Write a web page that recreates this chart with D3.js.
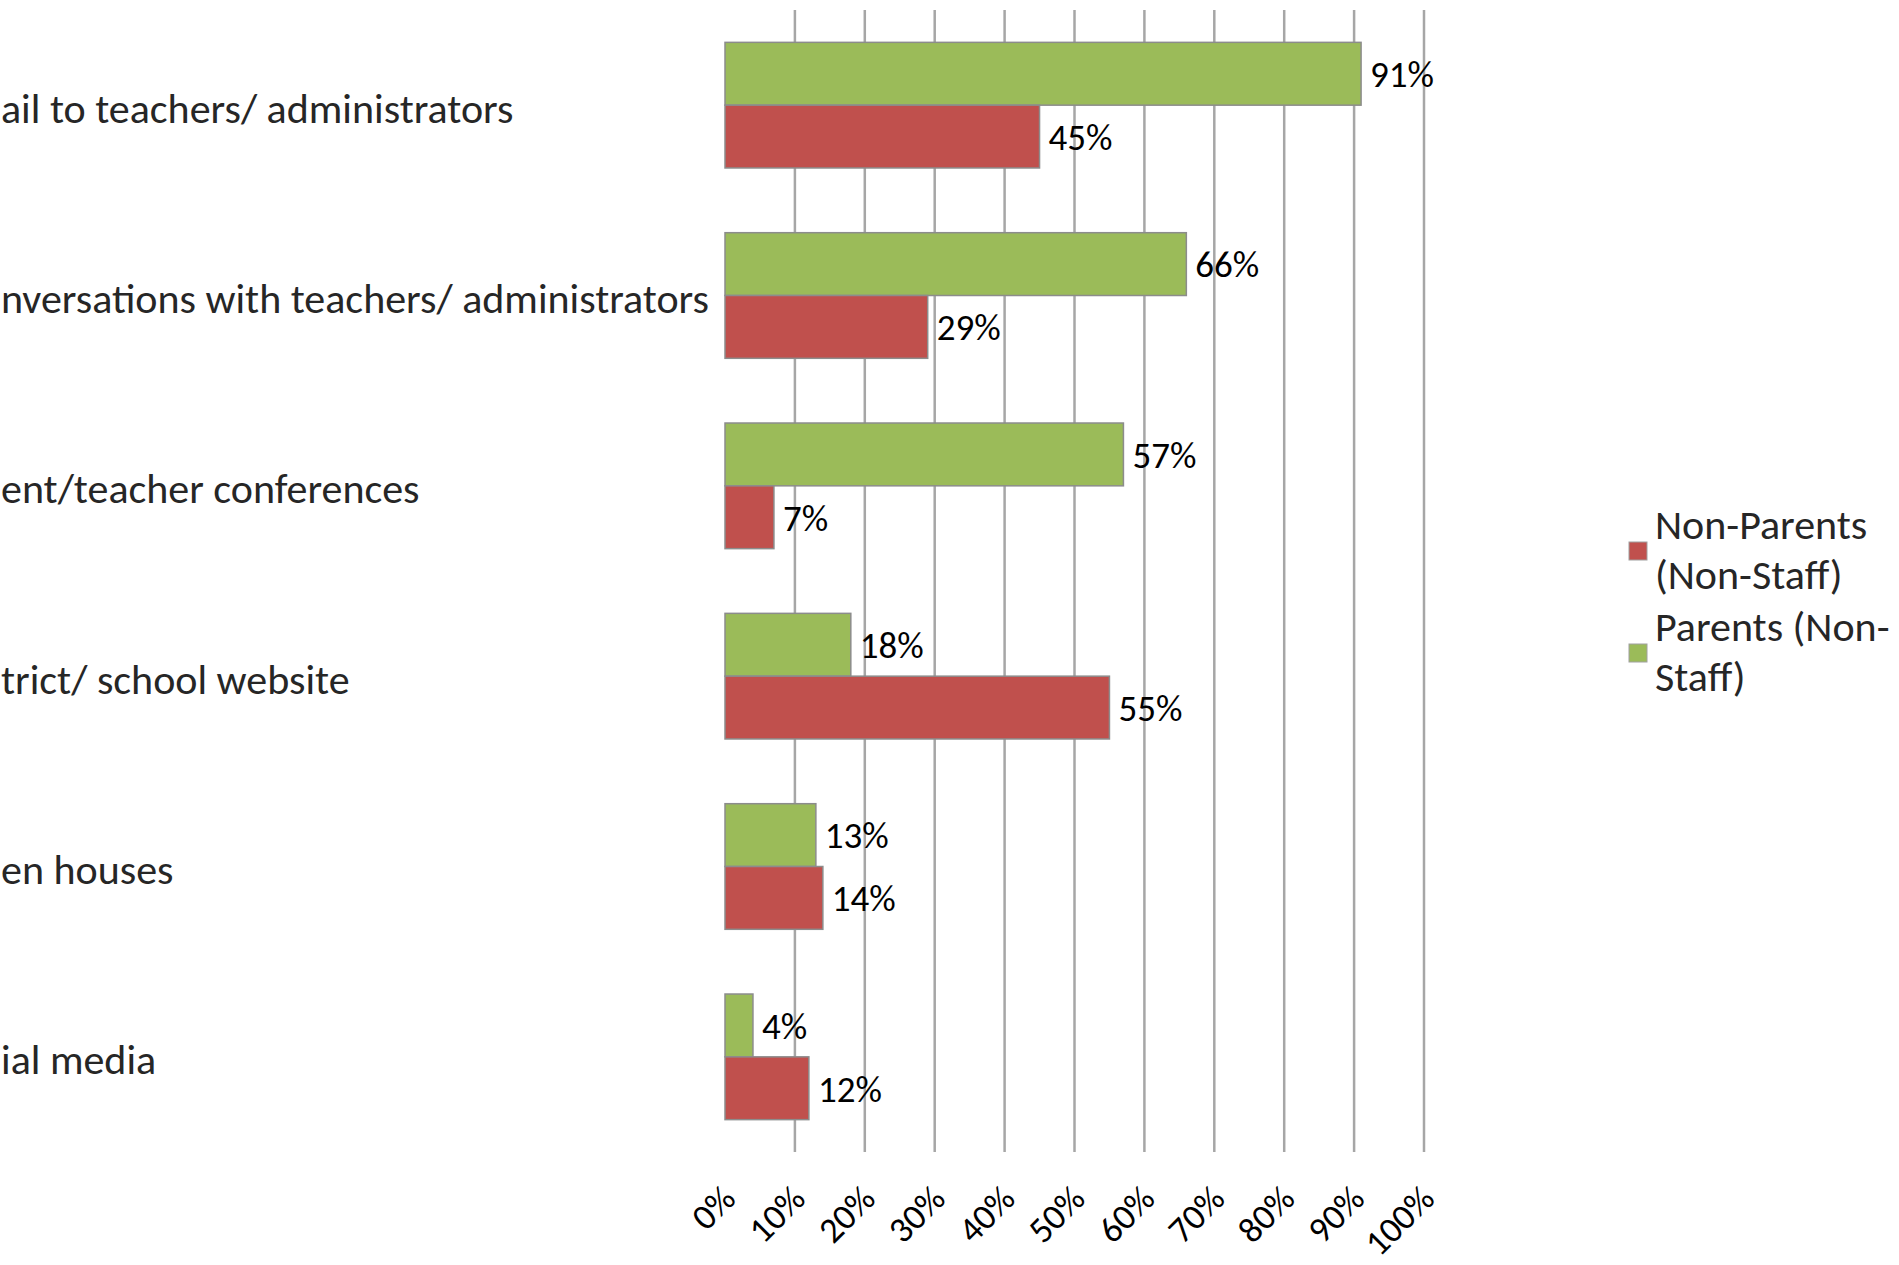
<!DOCTYPE html>
<html>
<head>
<meta charset="utf-8">
<script src="https://cdnjs.cloudflare.com/ajax/libs/d3/7.8.5/d3.min.js"></script>
<style>
  body { margin: 0; background: #fff; }
  svg { display: block; }
</style>
</head>
<body>
<div id="chart"></div>
<script>
// data (category names as they show, cut at the left edge)
var categories = [
  "ail to teachers/ administrators",
  "nversations with teachers/ administrators",
  "ent/teacher conferences",
  "trict/ school website",
  "en houses",
  "ial media"
];
var parentsValues = [91, 66, 57, 18, 13, 4];      // Parents (Non-Staff)
var nonParentsValues = [45, 29, 7, 55, 14, 12];   // Non-Parents (Non-Staff)
var tickValues = [0, 10, 20, 30, 40, 50, 60, 70, 80, 90, 100];
var tickLabels = ["0%", "10%", "20%", "30%", "40%", "50%", "60%", "70%", "80%", "90%", "100%"];
var seriesKeys = ["parents", "nonParents"];
var legendLabels = [["Non-Parents", "(Non-Staff)"], ["Parents (Non-", "Staff)"]];
var legendKeys = ["nonParents", "parents"];

var width = 1899, height = 1265;
var font = "Carlito, Lato, 'Open Sans', sans-serif";

var colors = { parents: "#9BBB59", nonParents: "#C0504D" };

var svg = d3.select("#chart")
  .append("svg")
  .attr("width", width)
  .attr("height", height);

svg.append("rect").attr("width", width).attr("height", height).attr("fill", "#fff");

// plot area
var plotTop = 10, plotBottom = 1152;

var x = d3.scaleLinear()
  .domain([0, 100])
  .range([725, 1424]);

var y = d3.scaleBand()
  .domain(categories)
  .range([plotTop, plotBottom])
  .paddingInner(0.34)
  .paddingOuter(0.17);

var ySub = d3.scaleBand()
  .domain(seriesKeys)
  .range([0, y.bandwidth()]);

// gridlines (no line at 0)
svg.append("g")
  .selectAll("line")
  .data(tickValues.filter(function(d) { return d > 0; }))
  .enter().append("line")
    .attr("x1", function(d) { return x(d); })
    .attr("x2", function(d) { return x(d); })
    .attr("y1", plotTop)
    .attr("y2", plotBottom)
    .attr("stroke", "#a6a6a6")
    .attr("stroke-width", 2.5);

// table for bars
var rows = categories.map(function(c, i) {
  return { cat: c, parents: parentsValues[i], nonParents: nonParentsValues[i] };
});

var groups = svg.append("g")
  .selectAll("g")
  .data(rows)
  .enter().append("g")
    .attr("transform", function(d) { return "translate(0," + y(d.cat) + ")"; });

var bars = groups.selectAll("g")
  .data(function(d) { return seriesKeys.map(function(k) { return { key: k, value: d[k] }; }); })
  .enter().append("g");

bars.append("rect")
  .attr("x", x(0))
  .attr("y", function(d) { return ySub(d.key); })
  .attr("width", function(d) { return x(d.value) - x(0); })
  .attr("height", ySub.bandwidth())
  .attr("fill", function(d) { return colors[d.key]; })
  .attr("stroke", "#8c8c8c")
  .attr("stroke-width", 1.5);

// value labels
bars.append("text")
  .attr("x", function(d) { return x(d.value) + 9; })
  .attr("y", function(d) { return ySub(d.key) + ySub.bandwidth() / 2; })
  .attr("dy", "0.36em")
  .attr("font-family", font)
  .attr("font-size", "37px")
  .attr("fill", "#000")
  .text(function(d) { return d.value + "%"; });

// category labels
svg.append("g")
  .selectAll("text")
  .data(categories)
  .enter().append("text")
    .attr("x", 1)
    .attr("y", function(d) { return y(d) + y.bandwidth() / 2; })
    .attr("dy", "0.42em")
    .attr("font-family", font)
    .attr("font-size", "42px")
    .attr("fill", "#262626")
    .text(function(d) { return d; });

// x axis labels, rotated
var xAxis = d3.axisBottom(x)
  .tickValues(tickValues)
  .tickFormat(function(d, i) { return tickLabels[i]; })
  .tickSize(0);

var axisG = svg.append("g")
  .attr("transform", "translate(0," + plotBottom + ")")
  .call(xAxis);
axisG.select(".domain").remove();
axisG.selectAll("text")
  .attr("font-family", font)
  .attr("font-size", "36px")
  .attr("fill", "#000")
  .attr("text-anchor", "end")
  .attr("x", 0)
  .attr("y", 0)
  .attr("dy", "0.35em")
  .attr("transform", "translate(3,40) rotate(-45)");

// legend
var legend = svg.append("g")
  .selectAll("g")
  .data(legendKeys)
  .enter().append("g")
    .attr("transform", function(d, i) { return "translate(1629," + (551 + i * 102) + ")"; });

legend.append("rect")
  .attr("x", 0)
  .attr("y", -9)
  .attr("width", 18)
  .attr("height", 18)
  .attr("fill", function(d) { return colors[d]; })
  .attr("stroke", "#a0a0a0")
  .attr("stroke-width", 1);

legend.append("text")
  .attr("font-family", font)
  .attr("font-size", "42px")
  .attr("fill", "#262626")
  .selectAll("tspan")
  .data(function(d, i) { return legendLabels[i]; })
  .enter().append("tspan")
    .attr("x", 26)
    .attr("y", function(d, j) { return -12 + j * 50; })
    .text(function(d) { return d; });
</script>
</body>
</html>
